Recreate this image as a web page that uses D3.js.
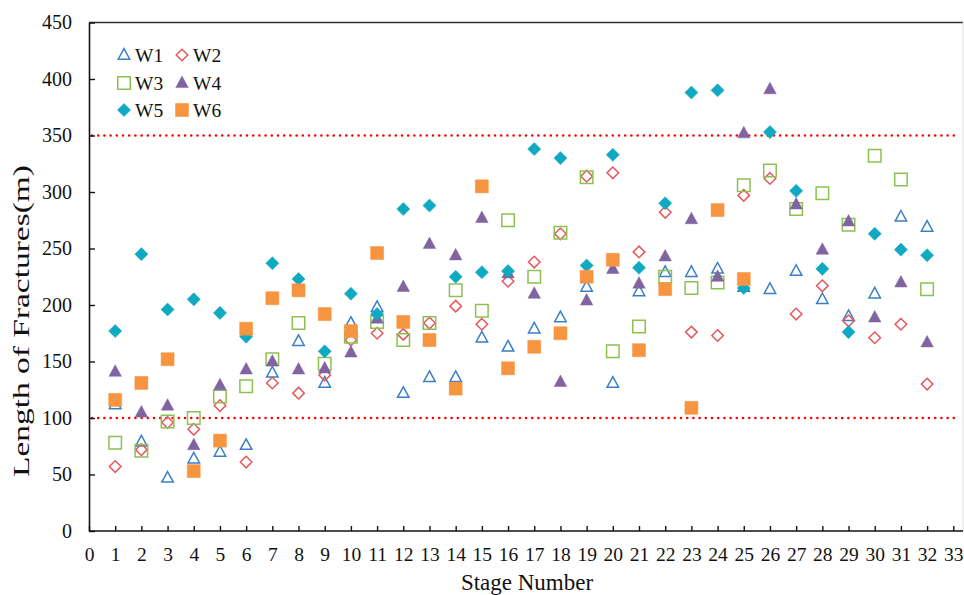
<!DOCTYPE html>
<html>
<head>
<meta charset="utf-8">
<script src="https://cdn.jsdelivr.net/npm/d3@7/dist/d3.min.js"></script>
<style>
  html, body { margin: 0; padding: 0; background: #fff; }
  svg { display: block; }
  text { font-family: "Liberation Serif", "Times New Roman", serif; fill: #111; }
</style>
</head>
<body>
<svg id="chart" width="964" height="595"></svg>
<script>
// ---- data ----
const stages = d3.range(1, 33);
const xTicks = d3.range(0, 34);
const yTicks = d3.range(0, 451, 50);
const seriesNames = ["W1", "W2", "W3", "W4", "W5", "W6"];
const W1 = [112, 79, 47, 64, 70, 76, 140, 168, 131, 184, 198, 122, 136, 136, 171, 163, 179, 189, 216, 131, 212, 229, 229, 232, 216, 214, 230, 205, 190, 210, 278, 269];
const W2 = [57, 72, 96, 90, 111, 61, 131, 122, 138, 169, 175, 174, 184, 199, 183, 221, 238, 263, 314, 317, 247, 282, 176, 173, 297, 312, 192, 217, 186, 171, 183, 130];
const W3 = [78, 71, 97, 100, 119, 128, 152, 184, 148, 172, 185, 169, 184, 213, 195, 275, 225, 264, 313, 159, 181, 225, 215, 220, 306, 319, 285, 299, 271, 332, 311, 214];
const W4 = [141, 105, 111, 76, 129, 143, 150, 143, 144, 158, 188, 216, 254, 244, 277, 228, 210, 132, 204, 232, 219, 243, 276, 225, 352, 391, 289, 249, 274, 189, 220, 167];
const W5 = [177, 245, 196, 205, 193, 172, 237, 223, 159, 210, 192, 285, 288, 225, 229, 230, 338, 330, 235, 333, 233, 290, 388, 390, 215, 353, 301, 232, 176, 263, 249, 244];
const W6 = [116, 131, 152, 53, 80, 179, 206, 213, 192, 177, 246, 185, 169, 126, 305, 144, 163, 175, 225, 240, 160, 214, 109, 284, 223];
const refLines = [350, 100];

const seriesData = [W1, W2, W3, W4, W5, W6];
const colors = ["#3b80c6", "#e4595c", "#8cc152", "#8064a2", "#10a9c2", "#f7943f"];
const shapes = ["triangle", "diamond", "square", "triangle", "diamond", "square"];
const filled = [false, false, false, true, true, true];
const sizes = [11.5, 11, 12.5, 12.5, 12.5, 13];

// ---- layout ----
const svg = d3.select("#chart");
const x = d3.scaleLinear().domain([0, 33]).range([89, 953.3]);
const y = d3.scaleLinear().domain([0, 450]).range([531, 22.5]);

function shapePath(type, w) {
  const h = w / 2;
  if (type === "triangle") {
    const th = w * 0.92;
    return `M0,${-th * 0.6}L${h},${th * 0.4}L${-h},${th * 0.4}Z`;
  }
  if (type === "diamond") {
    const d = w / 2 * 1.05;
    return `M0,${-d}L${d},0L0,${d}L${-d},0Z`;
  }
  return `M${-h},${-h}L${h},${-h}L${h},${h}L${-h},${h}Z`;
}

// frame top & right
svg.append("line").attr("x1", 89).attr("x2", 963).attr("y1", 22.5).attr("y2", 22.5)
  .attr("stroke", "#333").attr("stroke-width", 1.6);
svg.append("line").attr("x1", 963).attr("x2", 963).attr("y1", 22.5).attr("y2", 531)
  .attr("stroke", "#ddd").attr("stroke-width", 1);

// reference lines
svg.selectAll(".ref").data(refLines).enter().append("line")
  .attr("x1", x(0) + 3).attr("x2", 956)
  .attr("y1", d => y(d)).attr("y2", d => y(d))
  .attr("stroke", "#ff0000").attr("stroke-width", 2.6)
  .attr("stroke-linecap", "round").attr("stroke-dasharray", "0,6.2");

// y axis
const yAxis = d3.axisLeft(y).tickValues(yTicks).tickSizeInner(-6).tickSizeOuter(0).tickPadding(17);
const gy = svg.append("g").attr("transform", `translate(${x(0)},0)`).call(yAxis);
gy.select(".domain").attr("stroke", "#111").attr("stroke-width", 1.6);
gy.selectAll(".tick line").attr("stroke", "#111").attr("stroke-width", 1.4);
gy.selectAll(".tick text").attr("font-size", 20).attr("font-family", "Liberation Serif").attr("fill", "#111");

// x axis
const xAxis = d3.axisBottom(x).tickValues(xTicks).tickSizeInner(-5).tickSizeOuter(0).tickPadding(16);
const gx = svg.append("g").attr("transform", `translate(0,${y(0)})`).call(xAxis);
gx.select(".domain").attr("stroke", "#111").attr("stroke-width", 1.6)
  .attr("d", `M${x(0)},0H963`);
gx.selectAll(".tick line").attr("stroke", "#111").attr("stroke-width", 1.4);
gx.selectAll(".tick text").attr("font-size", 19.5).attr("font-family", "Liberation Serif").attr("fill", "#111");

// axis titles
svg.append("text").attr("x", 527).attr("y", 590).attr("text-anchor", "middle")
  .attr("font-size", 23).text("Stage Number");
svg.append("text").attr("transform", "translate(29,321) rotate(-90)")
  .attr("text-anchor", "middle").attr("font-size", 24)
  .attr("textLength", 312).attr("lengthAdjust", "spacingAndGlyphs")
  .text("Length of  Fractures(m)");

// data points
seriesData.forEach((vals, i) => {
  svg.append("g").selectAll("path").data(vals).enter().append("path")
    .attr("transform", (d, j) => `translate(${x(stages[j])},${y(d)})`)
    .attr("d", shapePath(shapes[i], sizes[i]))
    .attr("fill", filled[i] ? colors[i] : "none")
    .attr("stroke", colors[i])
    .attr("stroke-width", filled[i] ? 0.5 : 1.5)
    .attr("stroke-linejoin", "miter");
});

// legend
const legendPos = [[124, 55], [182, 55], [124, 83], [182, 83], [124, 110], [182, 110]];
seriesNames.forEach((name, i) => {
  const [lx, ly] = legendPos[i];
  svg.append("path").attr("transform", `translate(${lx},${ly})`)
    .attr("d", shapePath(shapes[i], sizes[i]))
    .attr("fill", filled[i] ? colors[i] : "none")
    .attr("stroke", colors[i]).attr("stroke-width", filled[i] ? 0.5 : 1.5);
  svg.append("text").attr("x", lx + 11).attr("y", ly + 7)
    .attr("font-size", 19.5).text(name);
});
</script>
</body>
</html>
